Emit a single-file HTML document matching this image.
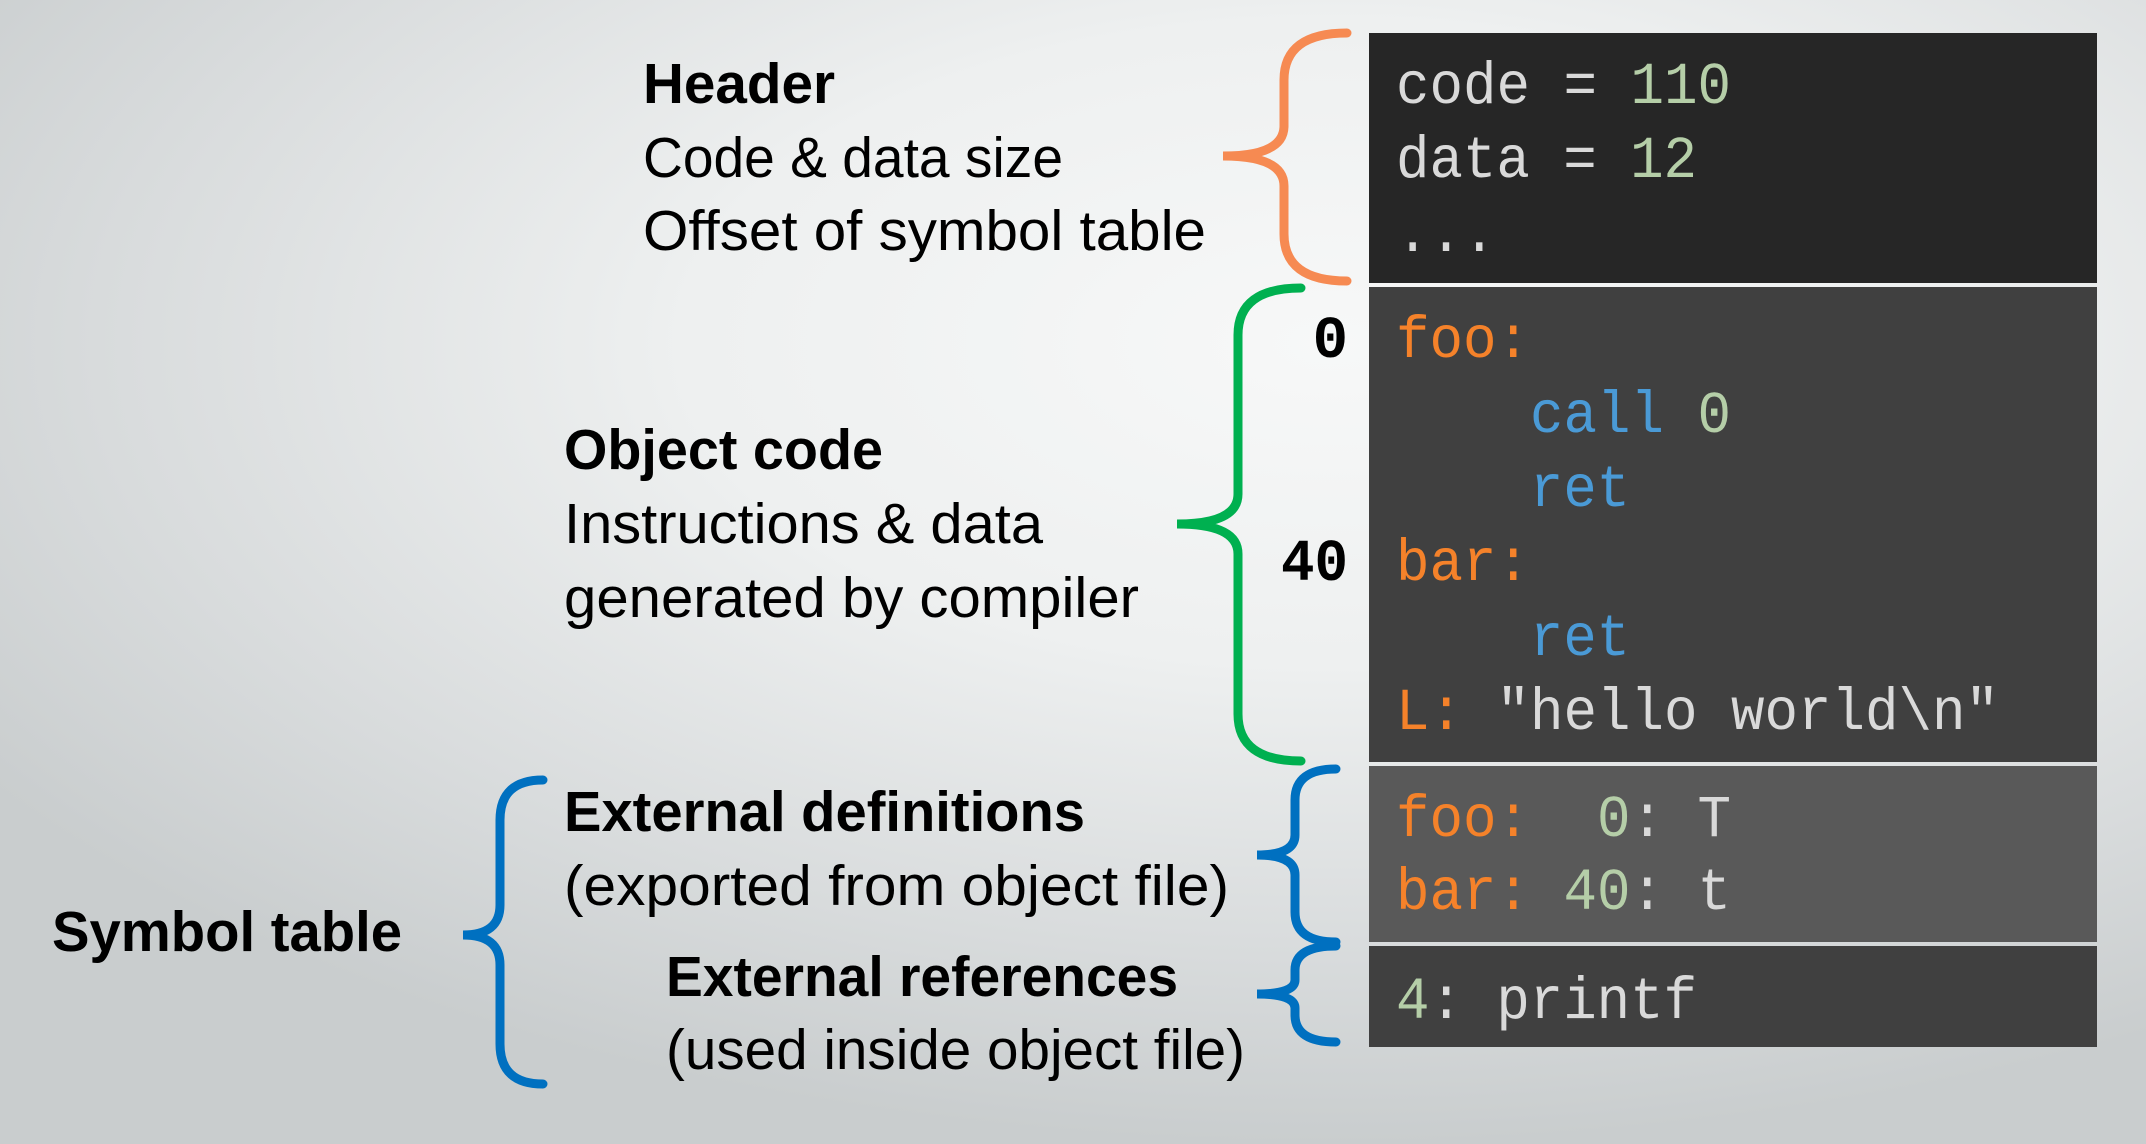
<!DOCTYPE html>
<html><head><meta charset="utf-8"><style>
html,body{margin:0;padding:0;width:2146px;height:1144px;overflow:hidden}
body{background:radial-gradient(ellipse 75% 70% at 62% 30%,#f7f8f8 0%,#eef0f0 40%,#d9dcdd 75%,#c9cdce 100%)}
svg{position:absolute;left:0;top:0}
.s{font-family:"Liberation Sans",sans-serif;font-size:57px;fill:#000}
.b{font-weight:bold}
.m{font-family:"Liberation Mono",monospace;font-size:59px;fill:#d9d9d9}
.g{fill:#b5cea8}.o{fill:#f5822a}.bl{fill:#4a9ad6}.w{fill:#d9d9d9}
</style></head><body>
<svg width="2146" height="1144" viewBox="0 0 2146 1144">
<rect x="1369" y="33" width="728" height="250" fill="#262626"/>
<rect x="1369" y="287" width="728" height="475" fill="#404040"/>
<rect x="1369" y="766" width="728" height="176" fill="#595959"/>
<rect x="1369" y="946" width="728" height="101" fill="#404040"/>

<g fill="none" stroke-width="9" stroke-linecap="round">
<path stroke="#f68a52" d="M1347,33 Q1284,33 1284,80 L1284,126 Q1284,156 1223,156 Q1284,156 1284,186 L1284,234 Q1284,281 1347,281"/>
<path stroke="#00b050" d="M1301,288 Q1238,288 1238,335 L1238,494 Q1238,524 1177,524 Q1238,524 1238,554 L1238,714 Q1238,761 1301,761"/>
<path stroke="#0070c0" d="M1336,769 Q1295,769 1295,800 L1295,835 Q1295,855 1257,855 Q1295,855 1295,875 L1295,912 Q1295,942 1336,942"/>
<path stroke="#0070c0" d="M1336,946 Q1295,946 1295,970 L1295,980 Q1295,994 1257,994 Q1295,994 1295,1008 L1295,1015 Q1295,1042 1336,1042"/>
<path stroke="#0070c0" d="M543,780 Q500,780 500,820 L500,905 Q500,935 463,935 Q500,935 500,965 L500,1044 Q500,1084 543,1084"/>
</g>

<text class="s b" x="643" y="103" textLength="192" lengthAdjust="spacingAndGlyphs">Header</text>
<text class="s" x="643" y="177" textLength="420" lengthAdjust="spacingAndGlyphs">Code &amp; data size</text>
<text class="s" x="643" y="250" textLength="563" lengthAdjust="spacingAndGlyphs">Offset of symbol table</text>
<text class="s b" x="564" y="469" textLength="319" lengthAdjust="spacingAndGlyphs">Object code</text>
<text class="s" x="564" y="543" textLength="479" lengthAdjust="spacingAndGlyphs">Instructions &amp; data</text>
<text class="s" x="564" y="617" textLength="575" lengthAdjust="spacingAndGlyphs">generated by compiler</text>
<text class="s b" x="564" y="831" textLength="521" lengthAdjust="spacingAndGlyphs">External definitions</text>
<text class="s" x="564" y="905" textLength="665" lengthAdjust="spacingAndGlyphs">(exported from object file)</text>
<text class="s b" x="666" y="996" textLength="512" lengthAdjust="spacingAndGlyphs">External references</text>
<text class="s" x="666" y="1069" textLength="579" lengthAdjust="spacingAndGlyphs">(used inside object file)</text>
<text class="s b" x="52" y="951" textLength="350" lengthAdjust="spacingAndGlyphs">Symbol table</text>

<text class="m" x="1396" y="103" textLength="335" lengthAdjust="spacingAndGlyphs" xml:space="preserve"><tspan class="w">code = </tspan><tspan class="g">110</tspan></text>
<text class="m" x="1396" y="177" textLength="301" lengthAdjust="spacingAndGlyphs" xml:space="preserve"><tspan class="w">data = </tspan><tspan class="g">12</tspan></text>
<text class="m" x="1396" y="251" textLength="100" lengthAdjust="spacingAndGlyphs">...</text>

<text class="m" x="1348" y="357" text-anchor="end" style="fill:#000;font-weight:bold">0</text>
<text class="m" x="1348" y="580" text-anchor="end" style="fill:#000;font-weight:bold" textLength="67" lengthAdjust="spacingAndGlyphs">40</text>

<text class="m o" x="1396" y="357" textLength="134" lengthAdjust="spacingAndGlyphs">foo:</text>
<text class="m" x="1530" y="432" textLength="201" lengthAdjust="spacingAndGlyphs" xml:space="preserve"><tspan class="bl">call </tspan><tspan class="g">0</tspan></text>
<text class="m bl" x="1530" y="506" textLength="100" lengthAdjust="spacingAndGlyphs">ret</text>
<text class="m o" x="1396" y="580" textLength="134" lengthAdjust="spacingAndGlyphs">bar:</text>
<text class="m bl" x="1530" y="655" textLength="100" lengthAdjust="spacingAndGlyphs">ret</text>
<text class="m" x="1396" y="729" textLength="603" lengthAdjust="spacingAndGlyphs" xml:space="preserve"><tspan class="o">L: </tspan><tspan class="w">"hello world\n"</tspan></text>

<text class="m" x="1396" y="836" textLength="335" lengthAdjust="spacingAndGlyphs" xml:space="preserve"><tspan class="o">foo:  </tspan><tspan class="g">0</tspan><tspan class="w">: T</tspan></text>
<text class="m" x="1396" y="909" textLength="335" lengthAdjust="spacingAndGlyphs" xml:space="preserve"><tspan class="o">bar: </tspan><tspan class="g">40</tspan><tspan class="w">: t</tspan></text>
<text class="m" x="1396" y="1018" textLength="301" lengthAdjust="spacingAndGlyphs" xml:space="preserve"><tspan class="g">4</tspan><tspan class="w">: printf</tspan></text>
</svg>
</body></html>
